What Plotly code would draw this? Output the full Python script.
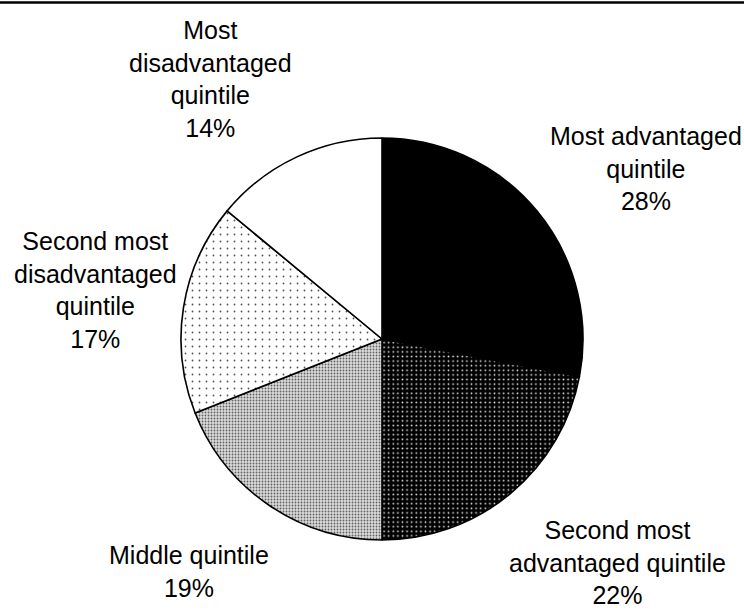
import plotly.graph_objects as go

# Share of group by area disadvantage quintile
labels = [
    "Most advantaged quintile",
    "Second most advantaged quintile",
    "Middle quintile",
    "Second most disadvantaged quintile",
    "Most disadvantaged quintile",
]
values = [28, 22, 19, 17, 14]
# how each label is broken over lines
label_lines = [
    ["Most advantaged", "quintile"],
    ["Second most", "advantaged quintile"],
    ["Middle quintile"],
    ["Second most", "disadvantaged", "quintile"],
    ["Most", "disadvantaged", "quintile"],
]

W, H = 744, 610
cx, cy, r = 382, 339, 201

# fill styles for each slice: (background, dot colour, dot spacing, dot solidity)
fills = [
    ("#000000", "#000000", 5, 0.0),
    ("#000000", "#e0e0e0", 4.6, 0.12),
    ("#dcdcdc", "#606060", 3, 0.3),
    ("#ffffff", "#505050", 7, 0.05),
    ("#ffffff", "#ffffff", 5, 0.0),
]

fig = go.Figure(
    go.Pie(
        labels=labels,
        values=values,
        sort=False,
        direction="clockwise",
        rotation=0,
        textinfo="none",
        hoverinfo="skip",
        showlegend=False,
        marker=dict(
            colors=[f[0] for f in fills],
            line=dict(color="#000000", width=1.6),
            pattern=dict(
                shape=["" if f[3] == 0 else "." for f in fills],
                bgcolor=[f[0] for f in fills],
                fgcolor=[f[1] for f in fills],
                size=[f[2] for f in fills],
                solidity=[f[3] if f[3] > 0 else 0.3 for f in fills],
                fillmode="replace",
            ),
        ),
        domain=dict(
            x=[(cx - r) / W, (cx + r) / W],
            y=[1 - (cy + r) / H, 1 - (cy - r) / H],
        ),
    )
)

# label block centres in pixels
label_pos = [(646, 168), (617, 562), (189, 571), (95, 290), (210, 79)]
for lines, v, (px, py) in zip(label_lines, values, label_pos):
    fig.add_annotation(
        x=px / W, y=1 - py / H, xref="paper", yref="paper",
        text="<br>".join(lines + [f"{v}%"]),
        showarrow=False, xanchor="center", yanchor="middle", align="center",
        font=dict(family="Liberation Sans, Arial, sans-serif", size=25, color="#000000"),
    )

# rule across the top
fig.add_shape(
    type="line", xref="paper", yref="paper",
    x0=0, x1=1, y0=1 - 2.5 / H, y1=1 - 2.5 / H,
    line=dict(color="#000000", width=2.5),
)

fig.update_layout(
    width=W, height=H,
    margin=dict(l=0, r=0, t=0, b=0),
    paper_bgcolor="#ffffff",
    plot_bgcolor="#ffffff",
)

fig.write_html("out.html")
